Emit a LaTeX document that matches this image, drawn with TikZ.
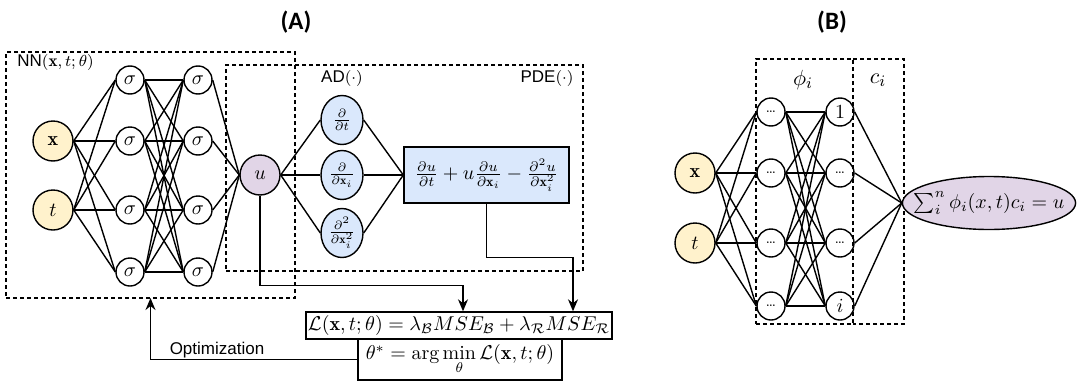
\documentclass[tikz,border=0pt]{standalone}
\usepackage{amsmath,amssymb}
\usepackage{fontspec}
\newfontfamily\lblfont{Liberation Sans}
\newfontfamily\ttlfont{Carlito}
\usetikzlibrary{arrows.meta,shapes.geometric}
\definecolor{inyellow}{HTML}{FFF2CC}
\definecolor{outpurple}{HTML}{E1D5E7}
\definecolor{adblue}{HTML}{DAE8FC}

\begin{document}
\begin{tikzpicture}[x=0.5pt, y=-0.5pt, line width=0.7pt,
  neuron/.style={circle, draw, minimum size=14pt, inner sep=0pt},
  inputn/.style={circle, draw, fill=inyellow, minimum size=20pt, inner sep=0pt},
  outn/.style={circle, draw, fill=outpurple, minimum size=20pt, inner sep=0pt},
  adnode/.style={ellipse, draw, fill=adblue, minimum width=21pt, minimum height=24.5pt,
    inner sep=-2.5pt, font=\fontsize{9}{10}\selectfont},
  dashline/.style={dash pattern=on 2pt off 1.5pt, line width=0.65pt},
  dashbox/.style={draw, dashline, inner sep=0pt, outer sep=0pt},
  eqbox/.style={draw, inner sep=1pt},
  arr/.style={-{Stealth[length=6pt,width=5pt]}},
  lbl/.style={font=\lblfont\fontsize{8.5}{10}\selectfont},
  ttl/.style={font=\ttlfont\bfseries\fontsize{12.5}{14}\selectfont}]
\useasboundingbox (0,0) rectangle (1080,391);

% titles
\node[ttl] (ttlA) at (296,22) {(A)};
\node[ttl] (ttlB) at (832,22) {(B)};

% (A) dashed frames
\node[dashbox, minimum width=144.5pt, minimum height=123pt] (nnBox) at (150.5,175) {};
\node[dashbox, minimum width=178.5pt, minimum height=103pt] (pdeBox) at (404.5,168) {};
\node[lbl, anchor=west] (nnLbl) at (10,62) {NN$(\mathbf{x},t;\theta)$};
\node[lbl] (adLbl) at (342,78) {AD$(\cdot)$};
\node[lbl] (pdeLbl) at (547,78) {PDE$(\cdot)$};

% (A) network
\node[inputn] (inX) at (53,141) {$\mathbf{x}$};
\node[inputn] (inT) at (53,210) {$t$};
\foreach \r/\yy in {1/80,2/141,3/210,4/272} {
  \node[neuron] (hA\r) at (130,\yy) {$\sigma$};
  \node[neuron] (hB\r) at (198,\yy) {$\sigma$};
}
\node[outn] (u) at (260,175) {$u$};

\foreach \i in {inX,inT} \foreach \r in {1,...,4} \draw (\i.east) -- (hA\r.west);
\foreach \r in {1,...,4} \foreach \s in {1,...,4} \draw (hA\r.east) -- (hB\s.west);
\foreach \r in {1,...,4} \draw (hB\r.east) -- (u.west);

% (A) derivatives and residual
\node[adnode] (dT) at (342,120) {$\frac{\partial}{\partial t}$};
\node[adnode] (dX) at (342,175) {$\frac{\partial}{\partial \mathbf{x}_i}$};
\node[adnode] (dXX) at (342,233) {$\frac{\partial^2}{\partial \mathbf{x}_i^2}$};
\node[eqbox, fill=adblue, minimum width=82.5pt, minimum height=28pt] (pde) at (486.5,175)
  {$\frac{\partial u}{\partial t} + u\frac{\partial u}{\partial \mathbf{x}_i} - \frac{\partial^2 u}{\partial \mathbf{x}_i^2}$};
\foreach \d in {dT,dX,dXX} {
  \draw (u.east) -- (\d.west);
  \draw (\d.east) -- (pde.west);
}

% (A) loss and optimization
\node[eqbox, minimum width=151pt, minimum height=13.5pt] (loss) at (459,325.5)
  {$\mathcal{L}(\mathbf{x},t;\theta) = \lambda_{\mathcal{B}} MSE_{\mathcal{B}} + \lambda_{\mathcal{R}} MSE_{\mathcal{R}}$};
\node[eqbox, minimum width=102pt, minimum height=20.5pt] (optim) at (460,359.5)
  {$\theta^* = \displaystyle\arg\min_{\theta} \mathcal{L}(\mathbf{x},t;\theta)$};

\draw[arr] (u.south) -- ++(0,90) -| ([xshift=2pt]loss.north);
\draw[arr] (pde.south) -- ++(0,54) -| ([xshift=57pt]loss.north);
\draw[arr] (optim.west) -| (nnBox.south);
\node[lbl] (optLbl) at (217,350) {Optimization};

% (B) dashed frames
\node[dashbox, minimum width=48.5pt, minimum height=132.5pt] (phiBox) at (804.5,191.5) {};
\node[minimum width=25.5pt, minimum height=132.5pt, inner sep=0pt, outer sep=0pt] (cBox) at (878.5,191.5) {};
\draw[dashline] (phiBox.north east) -- (cBox.north east) -- (cBox.south east) -- (phiBox.south east);
\node[font=\fontsize{11}{13}\selectfont] (phiLbl) at (803,80) {$\phi_i$};
\node[font=\fontsize{11}{13}\selectfont] (cLbl) at (878,80) {$c_i$};

% (B) network
\node[inputn] (bX) at (695,173) {$\mathbf{x}$};
\node[inputn] (bT) at (695,243) {$t$};
\foreach \r/\yy/\tx in {1/112/{$1$},2/173/{\scriptsize\dots},3/243/{\scriptsize\dots},4/306/{$i$}} {
  \node[neuron] (bP\r) at (771,\yy) {\scriptsize\dots};
  \node[neuron] (bQ\r) at (840,\yy) {\tx};
}
\node[ellipse, draw, fill=outpurple, minimum width=84pt, minimum height=26.5pt,
  inner xsep=-7pt, inner ysep=0pt] (bU) at (989,203)
  {$\sum_i^n \phi_i(x,t)c_i = u$};

\foreach \i in {bX,bT} \foreach \r in {1,...,4} \draw (\i.east) -- (bP\r.west);
\foreach \r in {1,...,4} \foreach \s in {1,...,4} \draw (bP\r.east) -- (bQ\s.west);
\foreach \r in {1,...,4} \draw (bQ\r.east) -- (bU.west);
\end{tikzpicture}
\end{document}
